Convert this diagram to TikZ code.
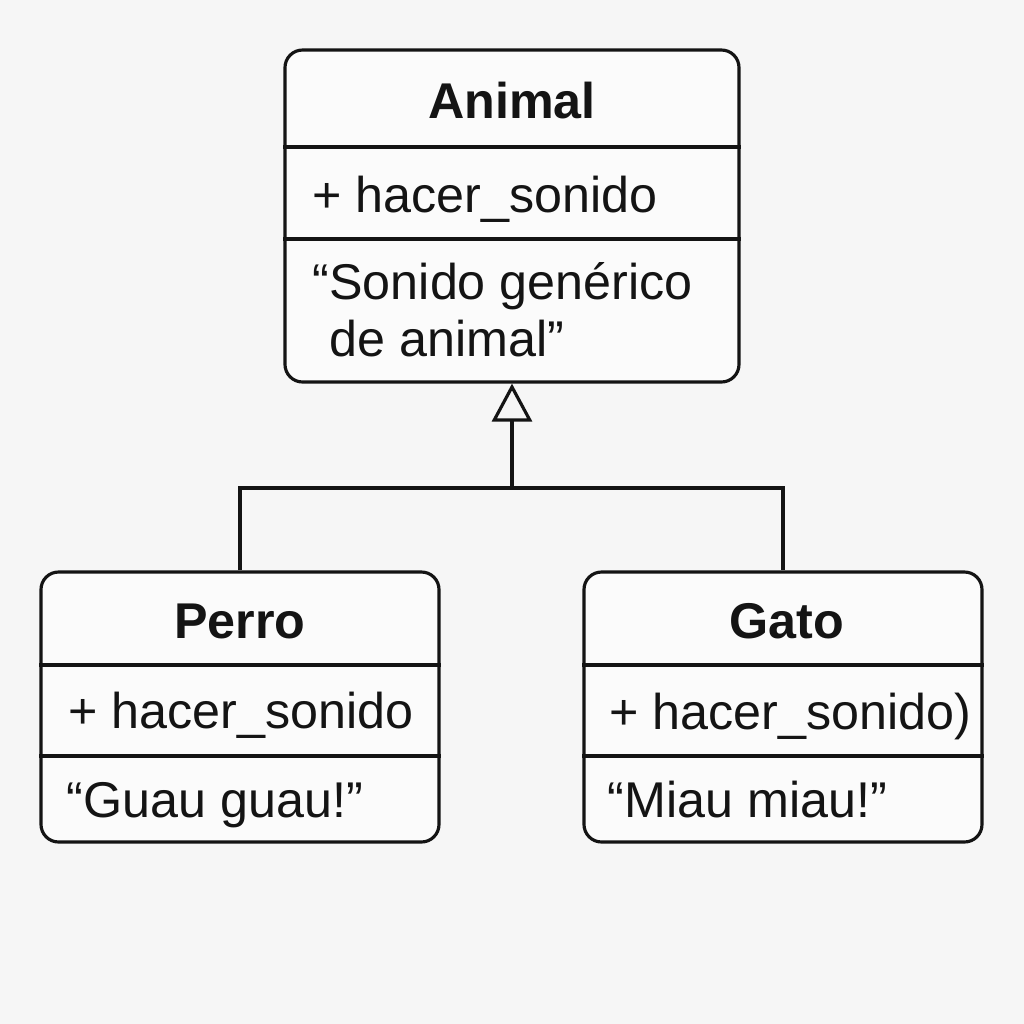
\documentclass[tikz,border=0pt]{standalone}
\usepackage{fontspec}
\setmainfont{Liberation Sans}
\usetikzlibrary{arrows.meta, positioning, calc}
\definecolor{paper}{HTML}{F6F6F6}
\definecolor{ink}{HTML}{141414}
\tikzset{
  cls/.style={draw=ink, line width=0.9pt, rounded corners=5pt, fill=white!60!paper, inner sep=0pt},
  ttl/.style={anchor=base, font=\fontsize{14.3}{16.2}\selectfont\bfseries, text=ink, inner sep=0pt},
  mem/.style={anchor=base west, font=\fontsize{14.3}{16.2}\selectfont, text=ink, inner sep=0pt, align=left},
  sep/.style={draw=ink, line width=0.9pt},
  inh/.style={draw=ink, line width=0.9pt, -{Triangle[open, length=0.38cm, width=0.40cm, line width=0.9pt]}},
  lnk/.style={draw=ink, line width=0.9pt}
}
\begin{document}
\begin{tikzpicture}
	\useasboundingbox[fill=paper] (0,0) rectangle (10.24,-10.24);
	% classes
	\node[cls, minimum width=4.54cm, minimum height=3.32cm] (animal) at (5.12,-2.16) {};
	\node[cls, minimum width=3.98cm, minimum height=2.70cm] (perro) at (2.40,-7.07) {};
	\node[cls, minimum width=3.98cm, minimum height=2.70cm] (gato) at (7.83,-7.07) {};
	% compartments
	\foreach \c/\a/\b in {animal/-1.47/-2.39, perro/-6.65/-7.56, gato/-6.65/-7.56} {
		\draw[sep] (\c.west |- 0,\a) -- (\c.east |- 0,\a);
		\draw[sep] (\c.west |- 0,\b) -- (\c.east |- 0,\b);
	}
	% texts
	\node[ttl] (animalT) at (5.12,-1.18) {Animal};
	\node[mem] (animalM) at (3.12,-2.12) {+ hacer\_sonido};
	\node[mem] (animalB) at (3.12,-3.56) {“Sonido genérico\\\hphantom{“}de animal”};
	\node[ttl] (perroT) at (2.40,-6.38) {Perro};
	\node[mem] (perroM) at (0.68,-7.28) {+ hacer\_sonido};
	\node[mem] (perroB) at (0.66,-8.17) {“Guau guau!”};
	\node[ttl] (gatoT) at (7.87,-6.38) {Gato};
	\node[mem] (gatoM) at (6.09,-7.29) {+ hacer\_sonido)};
	\node[mem] (gatoB) at (6.07,-8.17) {“Miau miau!”};
	% inheritance
	\coordinate (jn) at (5.12,-4.88);
	\draw[inh] (jn) -- (animal.south);
	\draw[lnk] (perro.north) |- (jn) -| (gato.north);
\end{tikzpicture}
\end{document}
